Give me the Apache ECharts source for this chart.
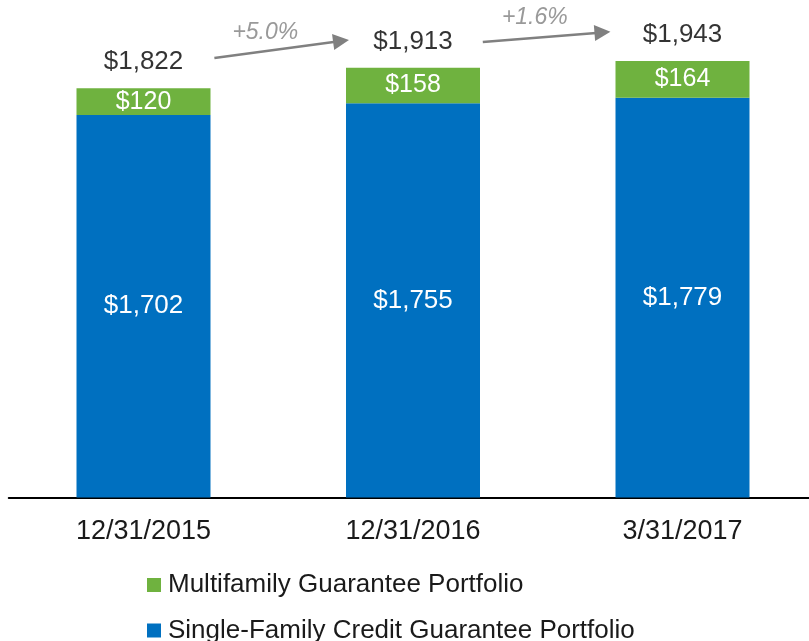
<!DOCTYPE html>
<html>
<head>
<meta charset="utf-8">
<script src="https://cdn.jsdelivr.net/npm/echarts@6/dist/echarts.min.js"></script>
<style>html,body{margin:0;padding:0;background:#fff;}#c{width:809px;height:641px;}</style>
</head>
<body>
<div id="c"></div>
<script>
const categories = ['12/31/2015', '12/31/2016', '3/31/2017'];
const singleFamily = [1702, 1755, 1779];
const multifamily = [120, 158, 164];
const totals = [1822, 1913, 1943];
const growthLabels = ['+5.0%', '+1.6%'];
const seriesNames = ['Multifamily Guarantee Portfolio', 'Single-Family Credit Guarantee Portfolio'];
// annotation arrows in (category-position, value) space
const arrowLines = [
  [[0.263, 1956], [0.733, 2032]],
  [[1.259, 2027], [1.703, 2070]]
];
const growthLabelPos = [[0.452, 2071], [1.452, 2134]];

const BLUE = '#0070C0', GREEN = '#6FB23F', FONT = 'Liberation Sans';
const fmt = v => '$' + v.toLocaleString('en-US');

const legendBase = {
  orient: 'horizontal', left: 147, padding: 0,
  itemWidth: 14, itemHeight: 14, icon: 'rect',
  textStyle: { fontSize: 26, color: '#1a1a1a', fontFamily: FONT, padding: [0, 0, 0, 2] }
};

const chart = echarts.init(document.getElementById('c'));
chart.setOption({
  animation: false,
  textStyle: { fontFamily: FONT },
  grid: { left: 8.75, width: 808.5, top: 3.2, bottom: 143.5, containLabel: false, outerBoundsMode: 'none' },
  legend: [
    Object.assign({}, legendBase, { top: 572, data: [seriesNames[0]] }),
    Object.assign({}, legendBase, { top: 617.5, data: [seriesNames[1]] })
  ],
  xAxis: [{
    type: 'category', data: categories,
    axisLine: { lineStyle: { color: '#000', width: 2 } },
    axisTick: { show: false },
    axisLabel: { fontSize: 27, color: '#1a1a1a', margin: 21, fontFamily: FONT }
  }, {
    type: 'value', min: -0.5, max: 2.5, show: false, splitLine: { show: false }
  }],
  yAxis: { type: 'value', min: 0, max: 2200, show: false, splitLine: { show: false } },
  series: [{
    name: seriesNames[1], type: 'bar', stack: 'a',
    barWidth: 134, itemStyle: { color: BLUE }, data: singleFamily,
    label: { show: true, position: 'inside', color: '#fff', fontSize: 26, fontFamily: FONT,
      formatter: p => fmt(p.value) }
  }, {
    name: seriesNames[0], type: 'bar', stack: 'a',
    barWidth: 134, itemStyle: { color: GREEN }, data: multifamily,
    label: { show: true, position: 'inside', color: '#fff', fontSize: 25, fontFamily: FONT,
      formatter: p => fmt(p.value) }
  }, {
    type: 'scatter', symbolSize: 0, data: totals, silent: true,
    label: { show: true, position: 'top', distance: 13, color: '#000', fontSize: 26, fontFamily: FONT,
      formatter: p => fmt(p.value) }
  }, {
    type: 'lines', coordinateSystem: 'cartesian2d', xAxisIndex: 1, yAxisIndex: 0,
    symbol: ['none', 'triangle'], symbolSize: [0, 16], silent: true,
    lineStyle: { color: '#808080', width: 2.5, curveness: 0, opacity: 1 },
    data: arrowLines.map(c => ({ coords: c }))
  }, {
    type: 'scatter', xAxisIndex: 1, yAxisIndex: 0, symbolSize: 0, silent: true,
    data: growthLabelPos.map((p, i) => [p[0], p[1], growthLabels[i]]),
    label: { show: true, position: 'inside', color: '#808080', fontSize: 23, fontStyle: 'italic', fontFamily: FONT,
      formatter: p => p.data[2] }
  }]
});
</script>
</body>
</html>
